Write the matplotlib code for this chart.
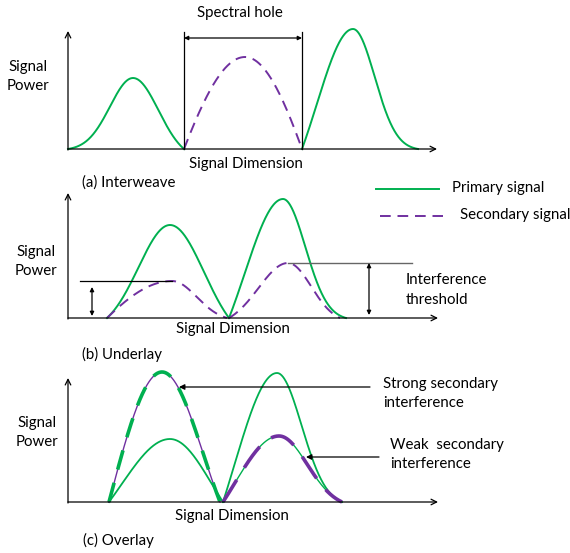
import numpy as np
import matplotlib
matplotlib.use("Agg")
import matplotlib.pyplot as plt

GREEN = "#00B050"
PURPLE = "#7030A0"
FONT = "Lato"

# ---- data (panel-local: x = signal dimension, y = power above baseline) ----
# each peak: start, centre, end, height, left sharpness k, right sharpness k
a_primary = [(0, 65, 116, 71, 4.0, 2.0), (234, 285, 350, 120, 1.0, 4.5)]
a_secondary = [(116, 177, 234, 92, 0.3, 0.3)]
a_hole = (116, 234)

b_primary = [(39, 102, 161, 93, 2.0, 1.5), (161, 215, 278, 119, 1.0, 4.0)]
b_secondary = [(39, 104, 159, 37, 0.3, 2.5), (161, 220, 272, 55, 2.0, 2.5)]
b_thresholds = [37, 55]

c_primary = [(41, 102, 155, 63, 0.8, 0.8), (155, 209, 274, 129, 0.8, 3.5)]
c_strong = (41, 94, 152, 130, 0.5, 1.0)
c_weak = (155, 211, 274, 66, 0.8, 2.5)

labels = ["(a) Interweave", "(b) Underlay", "(c) Overlay"]


def peak(p, n=200):
    s, c, e, h, kl, kr = p
    xl = np.linspace(s, c, n)
    xr = np.linspace(c, e, n)
    def g(u, k):
        return (np.exp(-k * u ** 2) - np.exp(-k)) / (1 - np.exp(-k))
    yl = h * g((c - xl) / (c - s), kl)
    yr = h * g((xr - c) / (e - c), kr)
    return np.concatenate([xl, xr]), np.concatenate([yl, yr])


fig = plt.figure(figsize=(5.70, 5.53), dpi=100)
ax = fig.add_axes([0, 0, 1, 1])
ax.set_xlim(0, 570)
ax.set_ylim(553, 0)
ax.axis("off")

fs = 10.8


def txt(x, y, s, ha="left"):
    ax.text(x, y, s, fontsize=fs, family=FONT, ha=ha, va="center", color="black")


def axes_frame(ox, oy, top, right, ylab_x, ylab_y, dim_x, dim_y, lab_x, lab_y, lab):
    ax.annotate("", xy=(ox, top), xytext=(ox, oy + 1),
                arrowprops=dict(arrowstyle="->", lw=0.9, color="black",
                                shrinkA=0, shrinkB=0, mutation_scale=10))
    ax.annotate("", xy=(right, oy), xytext=(ox, oy),
                arrowprops=dict(arrowstyle="->", lw=0.9, color="black",
                                shrinkA=0, shrinkB=0, mutation_scale=10))
    txt(ylab_x, ylab_y, "Signal", ha="center")
    txt(ylab_x, ylab_y + 19, "Power", ha="center")
    txt(dim_x, dim_y, "Signal Dimension", ha="center")
    txt(lab_x, lab_y, lab)


def draw(ox, oy, p, **kw):
    x, y = peak(p)
    return ax.plot(ox + x, oy - y, **kw)


def dbl_arrow(x, y1, y2):
    ax.annotate("", xy=(x, y1), xytext=(x, y2),
                arrowprops=dict(arrowstyle="<|-|>", lw=0.9, color="black",
                                shrinkA=0, shrinkB=0, mutation_scale=6))


# ---------------- panel (a) ----------------
ox, oy = 68, 149
axes_frame(ox, oy, 31, 437, 28, 67, 246, 164, 82, 183, labels[0])
for p in a_primary:
    draw(ox, oy, p, color=GREEN, lw=1.4)
for p in a_secondary:
    draw(ox, oy, p, color=PURPLE, lw=1.4, dashes=(5.5, 3.5))
for hx in a_hole:
    ax.plot([ox + hx, ox + hx], [oy, 32], color="black", lw=0.9)
ax.annotate("", xy=(ox + a_hole[0], 38), xytext=(ox + a_hole[1], 38),
            arrowprops=dict(arrowstyle="<|-|>", lw=0.9, color="black",
                            shrinkA=0, shrinkB=0, mutation_scale=6))
txt(240, 13, "Spectral hole", ha="center")

# legend
ax.plot([376, 439], [189, 189], color=GREEN, lw=1.4)
txt(452, 188, "Primary signal")
ax.plot([380, 443], [216, 216], color=PURPLE, lw=1.4, dashes=(5.5, 3.5))
txt(460, 215, "Secondary signal")

# ---------------- panel (b) ----------------
ox, oy = 68, 318
axes_frame(ox, oy, 193, 438, 36, 252, 233, 329, 82, 354, labels[1])
for p in b_primary:
    draw(ox, oy, p, color=GREEN, lw=1.4)
for p in b_secondary:
    draw(ox, oy, p, color=PURPLE, lw=1.4, dashes=(5.5, 3.5))
# thresholds
ax.plot([80, ox + b_secondary[0][1]], [oy - b_thresholds[0]] * 2, color="black", lw=0.9)
dbl_arrow(92, oy - b_thresholds[0] + 6, oy - 2)
ax.plot([ox + b_secondary[1][1], 412], [oy - b_thresholds[1]] * 2, color="#666666", lw=1.0)
dbl_arrow(369, oy - b_thresholds[1], oy - 3)
txt(406, 280, "Interference")
txt(406, 300, "threshold")

# ---------------- panel (c) ----------------
ox, oy = 68, 502
axes_frame(ox, oy, 378, 438, 37, 423, 232, 516, 83, 540, labels[2])
for p in c_primary:
    draw(ox, oy, p, color=GREEN, lw=1.3)
# strong interference: thin purple base, thick green dashes
draw(ox, oy, c_strong, color=PURPLE, lw=1.0)
draw(ox, oy, c_strong, color=GREEN, lw=2.6, dashes=(5.5, 3.8))
# weak interference: thin green base, thick purple dashes
draw(ox, oy, c_weak, color=GREEN, lw=1.0)
draw(ox, oy, c_weak, color=PURPLE, lw=2.6, dashes=(7.2, 4.0))

ax.annotate("", xy=(179, 387), xytext=(370, 387),
            arrowprops=dict(arrowstyle="-|>", lw=0.9, color="black",
                            shrinkA=0, shrinkB=0, mutation_scale=8))
txt(383, 384, "Strong secondary")
txt(383, 403, "interference")
ax.annotate("", xy=(306, 457), xytext=(379, 457),
            arrowprops=dict(arrowstyle="-|>", lw=0.9, color="black",
                            shrinkA=0, shrinkB=0, mutation_scale=8))
txt(390, 445, "Weak  secondary")
txt(390, 464, "interference")

fig.savefig("out.png", dpi=100)
